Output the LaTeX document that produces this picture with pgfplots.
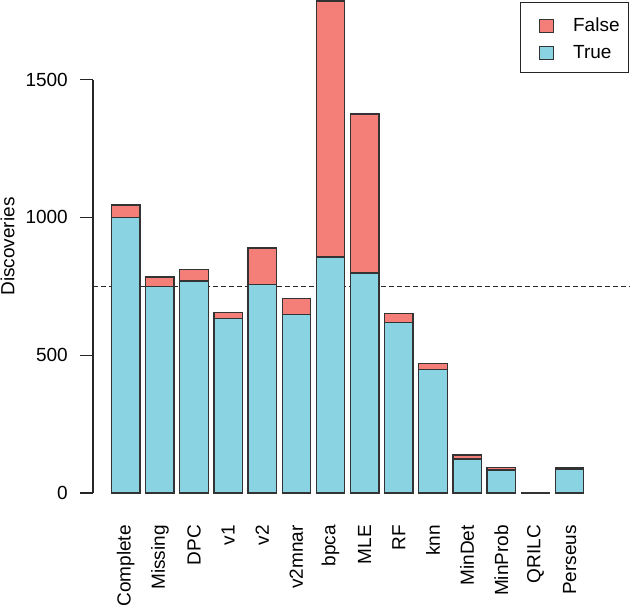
\documentclass[border=0pt]{standalone}
\usepackage{fontspec}
\setmainfont{Liberation Sans}
\usepackage{pgfplots}
\pgfplotsset{compat=1.18}
\definecolor{cfalse}{HTML}{F37F78}
\definecolor{ctrue}{HTML}{89D3E3}
\newcommand{\bigf}{\fontsize{19}{23}\selectfont}
\begin{document}
\begin{tikzpicture}
\path[use as bounding box] (-93pt,-117pt) rectangle (537pt,493pt);
\begin{axis}[
  at={(0,0)}, anchor=south west,
  scale only axis, width=537pt, height=493pt,
  xmin=-0.958, xmax=14.77, ymin=0, ymax=1789,
  ybar stacked, bar width=0.833,
  axis line style={draw=none},
  xtick=data,
  xticklabels={Complete,Missing,DPC,v1,v2,v2mnar,bpca,MLE,RF,knn,MinDet,MinProb,QRILC,Perseus},
  xtick style={draw=none},
  xticklabel style={rotate=90, anchor=east, inner sep=0pt, font=\bigf},
  xticklabel shift=32pt,
  ytick={0,500,1000,1500},
  ytick align=outside, ytick pos=left,
  major tick length=13pt,
  ytick style={line width=1.2pt, black!85},
  yticklabel style={font=\bigf, inner sep=0pt},
  yticklabel shift=12pt,
  /pgf/number format/assume math mode=true,
  /pgf/number format/1000 sep={},
  ylabel={Discoveries},
  ylabel style={font=\bigf, at={(axis description cs:-0.159,0.5)}, anchor=center, rotate=0},
  clip=false,
  reverse legend,
  legend style={at={(axis description cs:0.9985,0.996)}, anchor=north east, draw=black!85, line width=1.2pt,
    font=\bigf, inner xsep=9pt, inner ysep=13pt, row sep=10pt, column sep=19pt,
    nodes={inner sep=0pt}, legend cell align=left},
  legend image code/.code={\path (0pt,-4pt) (23pt,9pt);
    \pgfinterruptboundingbox\draw[#1, line width=1.2pt] (9pt,-7pt) rectangle (23pt,6pt);\endpgfinterruptboundingbox},
]
\addplot[fill=ctrue, draw=black!80, line width=1.4pt] coordinates {
(0,1000) (1,750) (2,769) (3,634) (4,756) (5,647) (6,857) (7,798) (8,619) (9,449) (10,123) (11,83) (12,1) (13,87)};
\addlegendentry{True}
\addplot[fill=cfalse, draw=black!80, line width=1.4pt] coordinates {
(0,45) (1,34) (2,41) (3,21) (4,133) (5,59) (6,928) (7,578) (8,33) (9,21) (10,15) (11,9) (12,0) (13,5)};
\addlegendentry{False}
\draw[line width=1.2pt, black!85] (axis cs:-0.958,0) -- (axis cs:-0.958,1500);
\draw[line width=1.4pt, black!85, dash pattern=on 5pt off 3pt] (axis cs:-0.958,750) -- (axis cs:14.77,750);
\end{axis}
\end{tikzpicture}
\end{document}
